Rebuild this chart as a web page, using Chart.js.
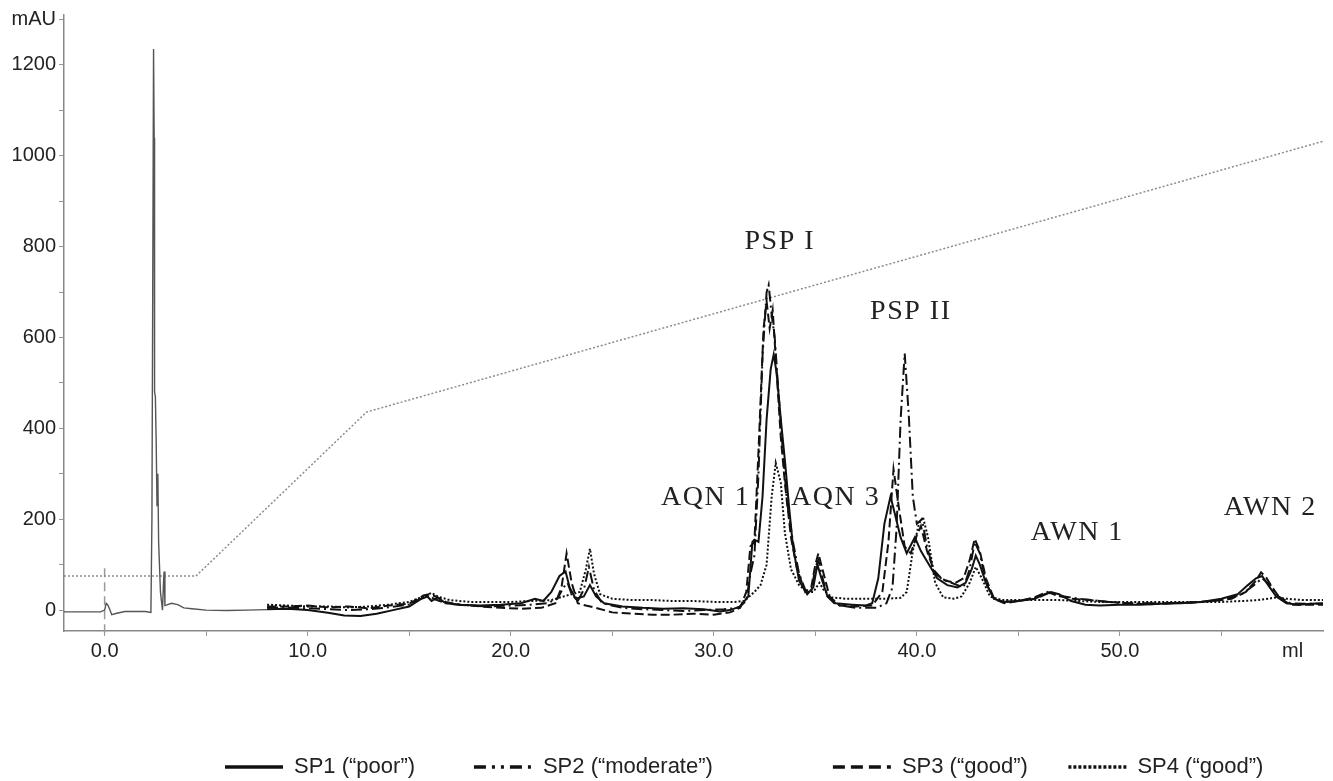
<!DOCTYPE html>
<html>
<head>
<meta charset="utf-8">
<title>Chromatogram SP1-SP4</title>
<script src="https://cdn.jsdelivr.net/npm/chart.js@4.4.1/dist/chart.umd.min.js"></script>
<style>
  html, body { margin: 0; padding: 0; background: #fff; }
</style>
</head>
<body>
<canvas id="chrom" width="1333" height="781"></canvas>
<script>
// =============================
// DATA (ml, mAU)
// =============================
const seriesNames = ['SP1 (\u201cpoor\u201d)', 'SP2 (\u201cmoderate\u201d)', 'SP3 (\u201cgood\u201d)', 'SP4 (\u201cgood\u201d)'];

// common start of all runs (injection + void peak), drawn grey
const commonRun = [[-2,-4],[-1,-4],[-0.2,-4],[0,0],[0.08,15],[0.15,12],[0.25,2],[0.35,-10],[0.6,-7],[1,-3],[1.5,-3],[2,-3],
  [2.28,-5],[2.33,200],[2.41,1235],[2.44,1040],[2.46,480],[2.5,470],[2.54,370],[2.58,230],[2.62,300],[2.66,150],[2.75,40],
  [2.85,0],[2.9,60],[2.93,85],[2.97,10],[3.1,12],[3.3,15],[3.6,12],[3.9,5],[4.3,3],[5,0],[6,-1],[7,0],[8,1]];

const sp1 = [[8,2],[9,3],[10,0],[11,-6],[11.8,-12],[12.6,-13],[13.4,-8],[14.2,0],[15,8],[15.6,25],[15.9,30],[16.1,20],[16.4,28],
  [16.8,15],[17.5,12],[18.5,10],[19.5,12],[20.5,15],[21.2,25],[21.6,20],[22,40],[22.4,75],[22.7,85],[22.9,50],[23.2,25],[23.6,30],
  [23.9,55],[24.2,30],[24.6,15],[25.5,8],[26.5,5],[27.5,3],[28.5,4],[29.5,2],[30.3,-3],[30.8,0],[31.3,8],[31.7,30],[31.9,150],
  [32,155],[32.2,150],[32.4,250],[32.6,420],[32.8,530],[32.95,563],[33.1,520],[33.3,420],[33.5,330],[33.7,230],[33.9,140],
  [34.2,65],[34.6,35],[34.9,50],[35.1,100],[35.3,70],[35.6,30],[36,15],[36.8,12],[37.5,10],[37.8,15],[38.1,70],[38.4,190],
  [38.7,250],[38.9,215],[39.2,160],[39.5,125],[39.9,160],[40.2,130],[40.6,100],[41,70],[41.5,55],[42,50],[42.4,60],[42.7,90],
  [42.9,120],[43.1,100],[43.4,60],[43.8,25],[44.2,18],[45,20],[45.8,25],[46.3,35],[46.6,40],[47,35],[47.6,20],[48.3,12],[49,10],
  [50,12],[51,12],[52,14],[53,15],[54,18],[55,25],[55.8,35],[56.3,55],[56.7,70],[57,75],[57.3,55],[57.7,30],[58.2,15],[58.8,12],
  [59.4,14],[60,15]];

const sp2 = [[8,5],[9,6],[10,4],[11,2],[12,0],[13,2],[14,6],[15,12],[15.7,28],[16,32],[16.2,25],[16.5,20],[17,14],[18,10],[19,8],
  [20,10],[21,12],[21.8,15],[22.3,25],[22.6,50],[22.8,60],[23,35],[23.3,20],[23.6,45],[23.85,95],[24.1,45],[24.5,15],[25.5,5],
  [26.5,2],[27.5,0],[28.5,-2],[29.5,0],[30.5,2],[31.2,5],[31.6,20],[31.8,80],[32,120],[32.2,300],[32.4,560],[32.6,700],[32.7,716],
  [32.85,650],[33,600],[33.2,470],[33.4,350],[33.6,240],[33.9,150],[34.2,80],[34.5,45],[34.8,40],[35,95],[35.15,110],[35.3,80],
  [35.6,30],[36,12],[37,5],[38,5],[38.5,15],[38.8,50],[39,180],[39.2,420],[39.4,565],[39.6,430],[39.8,250],[40,190],[40.25,200],
  [40.5,140],[40.8,90],[41.2,70],[41.6,62],[42,55],[42.3,50],[42.6,90],[42.85,150],[43.1,125],[43.4,60],[43.8,25],[44.3,18],
  [45,20],[46,28],[46.5,38],[47,32],[48,25],[49,20],[50,16],[51,15],[52,15],[53,16],[54,18],[55,22],[56,35],[56.6,55],[57,70],
  [57.4,55],[57.8,30],[58.4,15],[59.2,14],[60,14]];

const sp3 = [[8,8],[9,8],[10,10],[11,6],[12,8],[13,4],[14,10],[15,14],[15.7,32],[16,35],[16.3,30],[16.8,18],[17.5,12],[18.5,8],
  [19.5,5],[20.5,3],[21.5,5],[22.2,15],[22.5,50],[22.75,125],[23,60],[23.3,15],[23.7,10],[24.2,5],[25,-5],[26,-8],[27,-10],
  [28,-10],[29,-8],[30,-10],[30.8,-5],[31.3,5],[31.6,40],[31.8,140],[32,150],[32.2,350],[32.45,620],[32.6,680],[32.75,620],
  [32.9,660],[33.1,520],[33.3,380],[33.5,280],[33.8,160],[34.1,90],[34.5,40],[34.8,50],[35,100],[35.15,125],[35.35,90],[35.7,30],
  [36.2,10],[37,8],[37.8,10],[38.3,40],[38.6,150],[38.85,310],[39.1,230],[39.4,140],[39.7,125],[40,165],[40.2,185],[40.5,130],
  [40.9,80],[41.4,65],[41.9,60],[42.3,70],[42.6,110],[42.85,157],[43.1,130],[43.4,70],[43.8,25],[44.3,15],[45,20],[45.8,28],
  [46.4,40],[46.9,32],[47.6,25],[48.5,22],[49.5,18],[50.5,14],[51.5,13],[52.5,15],[53.5,17],[54.5,20],[55.5,25],[56.2,40],
  [56.7,65],[56.95,83],[57.2,72],[57.5,50],[57.9,25],[58.4,12],[59.2,12],[60,12]];

const sp4 = [[8,12],[9,10],[10,8],[11,8],[12,6],[13,8],[14,12],[15,18],[15.8,32],[16.1,38],[16.4,30],[17,22],[18,18],[19,18],
  [20,18],[21,20],[22,22],[22.6,30],[23,35],[23.4,40],[23.7,90],[23.9,135],[24.1,80],[24.4,35],[25,25],[26,22],[27,22],[28,20],
  [29,20],[30,18],[31,18],[31.5,20],[32,40],[32.3,55],[32.6,100],[32.85,250],[33.05,324],[33.3,280],[33.5,170],[33.8,90],
  [34.2,55],[34.6,40],[34.9,40],[35.2,60],[35.4,45],[35.8,28],[36.5,25],[37.5,25],[38.5,25],[39.2,27],[39.5,40],[39.8,130],
  [40.1,190],[40.3,205],[40.55,160],[40.9,60],[41.3,28],[41.8,25],[42.2,30],[42.6,60],[42.9,95],[43.2,70],[43.6,30],[44.2,22],
  [45,22],[46,22],[47,22],[48,20],[49,18],[50,18],[51,18],[52,18],[53,18],[54,18],[55,18],[56,20],[56.8,22],[57.3,25],[57.7,28],
  [58.2,25],[59,22],[60,22]];

// salt gradient (dotted grey), in mAU-equivalent
const gradientRun = [[-2,75],[4.5,75],[12.9,436],[60,1032]];
// injection mark at 0 ml
const injectMark = [[0,92],[0,-60]];

// axis ticks
const xTicks = [0, 5, 10, 15, 20, 25, 30, 35, 40, 45, 50, 55, 58.5];
const mlTickAt = 58.5;
const yTicks = [0, 100, 200, 300, 400, 500, 600, 700, 800, 900, 1000, 1100, 1200, 1300];
const mauTickAt = 1300;

// peak names and where they sit (ml, mAU)
const peakNames = ['PSP I', 'PSP II', 'AQN 1', 'AQN 3', 'AWN 1', 'AWN 2'];
const peakSpots = [[33.25, 810], [39.7, 657], [29.6, 247], [36.0, 247], [47.9, 171], [57.4, 226]];

// =============================
// helpers / plugins
// =============================
const toPts = arr => arr.map(([x, y]) => ({ x, y }));
const legendGaps = [8, 18, 5, 0];   // trailing nbsp per legend item
const sansFont = '"Liberation Sans", Arial, Helvetica, sans-serif';

const peakLabelPlugin = {
  id: 'peakLabels',
  afterDatasetsDraw(chart) {
    const { ctx, scales: { x, y } } = chart;
    ctx.save();
    ctx.font = '28px "Liberation Serif", "Times New Roman", serif';
    if ('letterSpacing' in ctx) ctx.letterSpacing = '1.5px';
    ctx.fillStyle = '#222';
    ctx.textAlign = 'center';
    ctx.textBaseline = 'middle';
    peakNames.forEach((name, i) => {
      ctx.fillText(name, x.getPixelForValue(peakSpots[i][0]), y.getPixelForValue(peakSpots[i][1]));
    });
    ctx.restore();
  }
};

// move legend row under the plot like in the figure
const legendShift = {
  id: 'legendShift',
  afterLayout(chart) {
    const lg = chart.legend;
    if (!lg) return;
    lg.left += 215;
    lg.right += 215;
    lg.top += 7;
    lg.bottom += 7;
  }
};

const lineStyles = [
  { dash: [] },
  { dash: [11, 4, 2, 4] },
  { dash: [9, 4] },
  { dash: [2, 2] }
];
const legendDash = [[], [12, 6, 3, 6, 3, 6], [12, 6], [3, 2]];

const spData = [sp1, sp2, sp3, sp4];

const datasets = spData.map((arr, i) => ({
  label: seriesNames[i],
  data: toPts(arr),
  borderColor: '#111',
  backgroundColor: '#111',
  borderWidth: 2,
  borderDash: lineStyles[i].dash,
  pointRadius: 0,
  tension: 0
}));

datasets.push({
  label: 'common',
  data: toPts(commonRun),
  borderColor: '#555',
  borderWidth: 1.4,
  pointRadius: 0,
  tension: 0
});
datasets.push({
  label: 'gradient',
  data: toPts(gradientRun),
  borderColor: '#8c8c8c',
  borderWidth: 1.5,
  borderDash: [2, 2],
  pointRadius: 0,
  tension: 0
});
datasets.push({
  label: 'inject',
  data: toPts(injectMark),
  borderColor: '#9a9a9a',
  borderWidth: 1.5,
  borderDash: [9, 5],
  pointRadius: 0,
  clip: false
});

const ctx = document.getElementById('chrom').getContext('2d');

window.chromChart = new Chart(ctx, {
  type: 'line',
  data: { datasets },
  plugins: [peakLabelPlugin, legendShift],
  options: {
    responsive: false,
    animation: false,
    events: [],
    layout: { padding: { top: 13, right: 10, left: 0, bottom: 0 } },
    plugins: {
      tooltip: { enabled: false },
      legend: {
        position: 'bottom',
        align: 'start',
        labels: {
          color: '#222',
          font: { family: sansFont, size: 22 },
          usePointStyle: true,
          pointStyle: 'line',
          pointStyleWidth: 58,
          padding: 10,
          generateLabels(chart) {
            const items = Chart.defaults.plugins.legend.labels.generateLabels(chart);
            return items
              .filter(it => it.datasetIndex < 4)
              .map(it => ({
                ...it,
                lineWidth: 3.5,
                lineDash: legendDash[it.datasetIndex],
                strokeStyle: '#111',
                text: it.text + '\u00a0'.repeat(legendGaps[it.datasetIndex])
              }));
          }
        }
      }
    },
    scales: {
      x: {
        type: 'linear',
        min: -2,
        max: 60,
        afterBuildTicks: s => { s.ticks = xTicks.map(v => ({ value: v })); },
        afterFit: s => { s.height = 108; },
        ticks: {
          autoSkip: false,
          maxRotation: 0,
          padding: 3,
          color: '#222',
          font: { family: sansFont, size: 20 },
          callback: v => v === mlTickAt ? 'ml' : (v % 10 === 0 ? v.toFixed(1) : '')
        },
        grid: {
          drawOnChartArea: false,
          tickLength: 5,
          tickColor: c => (c.tick && c.tick.value === mlTickAt) ? 'rgba(0,0,0,0)' : '#999'
        },
        border: { color: '#888', width: 1.5 }
      },
      y: {
        type: 'linear',
        min: -46,
        max: 1310,
        afterBuildTicks: s => { s.ticks = yTicks.map(v => ({ value: v })); },
        afterFit: s => { s.width = 64; },
        ticks: {
          autoSkip: false,
          padding: 3,
          color: '#222',
          font: { family: sansFont, size: 20 },
          callback: v => v === mauTickAt ? 'mAU' : (v % 200 === 0 ? String(v) : '')
        },
        grid: {
          drawOnChartArea: false,
          tickLength: 5,
          tickColor: '#999'
        },
        border: { color: '#888', width: 1.5 }
      }
    }
  }
});
</script>
</body>
</html>
